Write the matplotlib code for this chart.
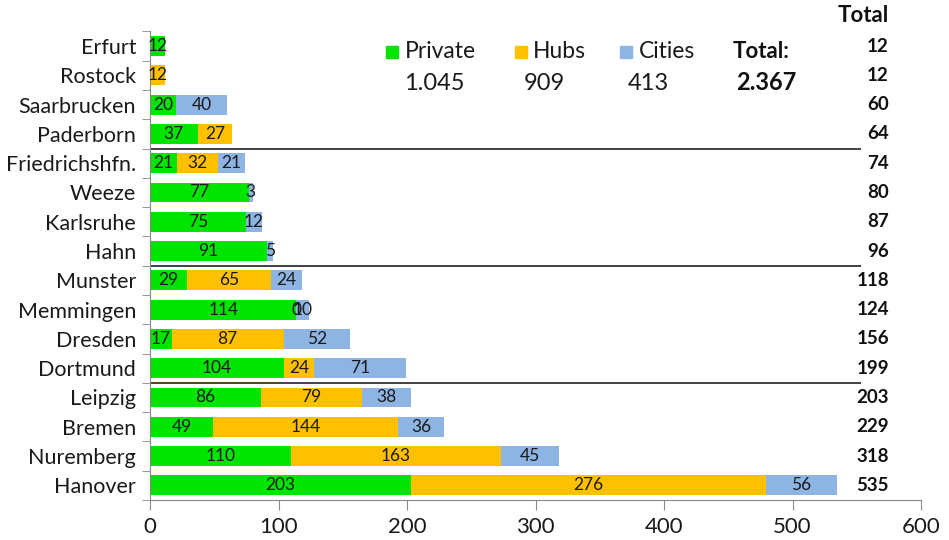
import matplotlib
matplotlib.use('Agg')
import matplotlib.pyplot as plt
from matplotlib.patches import Rectangle
from matplotlib.ticker import FixedLocator, NullFormatter
import numpy as np

plt.rcParams['font.family'] = ['Lato', 'DejaVu Sans']

# airports, top to bottom
airports = ['Erfurt', 'Rostock', 'Saarbrucken', 'Paderborn', 'Friedrichshfn.',
            'Weeze', 'Karlsruhe', 'Hahn', 'Munster', 'Memmingen', 'Dresden',
            'Dortmund', 'Leipzig', 'Bremen', 'Nuremberg', 'Hanover']
private = [12, 0, 20, 37, 21, 77, 75, 91, 29, 114, 17, 104, 86, 49, 110, 203]
hubs = [0, 12, 0, 27, 32, 0, 0, 0, 65, 0, 87, 24, 79, 144, 163, 276]
cities = [0, 0, 40, 0, 21, 3, 12, 5, 24, 10, 52, 71, 38, 36, 45, 56]
# zero labels that show up in the original (Memmingen hubs)
zero_labels_hubs = ['Memmingen']

legend_names = ['Private', 'Hubs', 'Cities']
legend_sums = ['1.045', '909', '413']
grand_total = '2.367'

colors = ['#00E400', '#FFC000', '#8DB4E2']
W, H = 949, 540

fig = plt.figure(figsize=(9.49, 5.40), dpi=100)
ax = fig.add_axes([150 / W, 40 / H, (921 - 150) / W, (508.6 - 40) / H])

y = np.arange(len(airports))
left = np.zeros(len(airports))
for vals, col, name in zip([private, hubs, cities], colors, legend_names):
    vals = np.array(vals)
    ax.barh(y, vals, left=left, height=0.68, color=col, edgecolor='none')
    for i, v in enumerate(vals):
        if v > 0 or (name == 'Hubs' and airports[i] in zero_labels_hubs):
            ax.text(left[i] + v / 2, y[i], str(v), ha='center', va='center',
                    fontsize=12.5, color='#1a1a1a')
    left += vals

totals = left
for i, t in enumerate(totals):
    ax.text(575, y[i], str(int(t)), ha='right', va='center', fontsize=13.5,
            fontweight='bold', color='#111111')
ax.text(575, -1.05, 'Total', ha='right', va='center', fontsize=16,
        fontweight='bold', color='#111111', clip_on=False)

# group separators
ax.hlines([3.5, 7.5, 11.5], 0, 553, color='#222222', lw=1.2)

ax.set_xlim(0, 600)
ax.set_ylim(len(airports) - 0.5, -0.5)
ax.set_xticks(range(0, 601, 100))
ax.set_yticks(y)
ax.set_yticklabels(airports, fontsize=15.5)
ax.yaxis.set_minor_locator(FixedLocator(np.arange(-0.5, len(airports), 1)))
ax.yaxis.set_minor_formatter(NullFormatter())
ax.tick_params(axis='y', which='major', length=0, pad=10, colors='#1a1a1a')
ax.tick_params(axis='y', which='minor', length=6, color='#888888')
ax.tick_params(axis='x', length=7, color='#888888', labelsize=16, pad=5,
               labelcolor='#1a1a1a')
for s in ['top', 'right']:
    ax.spines[s].set_visible(False)
for s in ['left', 'bottom']:
    ax.spines[s].set_color('#888888')

# legend block
sq_x = [386, 515, 620]
txt_x = [405, 533, 639]
num_x = [434, 544, 648]
for sx, tx, nx, col, name, s in zip(sq_x, txt_x, num_x, colors, legend_names, legend_sums):
    fig.add_artist(Rectangle((sx / W, 1 - 58 / H), 12 / W, 12 / H,
                             transform=fig.transFigure, color=col))
    fig.text(tx / W, 1 - 51 / H, name, ha='left', va='center', fontsize=16.5,
             color='#1a1a1a')
    fig.text(nx / W, 1 - 83 / H, s, ha='center', va='center', fontsize=17,
             color='#1a1a1a')
fig.text(733 / W, 1 - 51 / H, 'Total:', ha='left', va='center', fontsize=16,
         fontweight='bold', color='#111111')
fig.text(766 / W, 1 - 83 / H, grand_total, ha='center', va='center', fontsize=17,
         fontweight='bold', color='#111111')

fig.savefig('out.png', dpi=100)
